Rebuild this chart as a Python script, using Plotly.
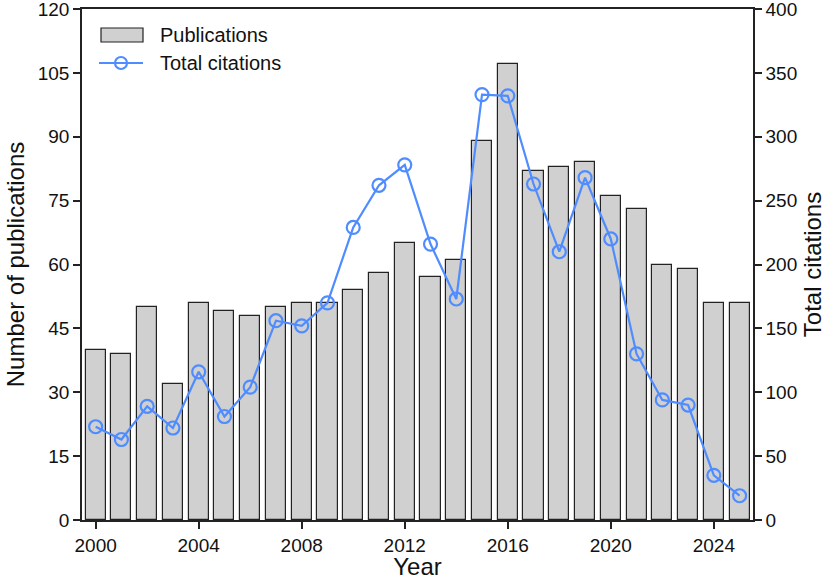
import plotly.graph_objects as go

years = list(range(2000, 2026))
publications = [40, 39, 50, 32, 51, 49, 48, 50, 51, 51, 54, 58, 65, 57, 61, 89, 107, 82, 83, 84, 76, 73, 60, 59, 51, 51]
citations = [73, 63, 89, 72, 116, 81, 104, 156, 152, 170, 229, 262, 278, 216, 173, 333, 332, 263, 210, 268, 220, 130, 94, 90, 35, 19]
xticks = [2000, 2004, 2008, 2012, 2016, 2020, 2024]
yticks_left = [0, 15, 30, 45, 60, 75, 90, 105, 120]
yticks_right = [0, 50, 100, 150, 200, 250, 300, 350, 400]
series_names = ["Publications", "Total citations"]

FONT = "Liberation Sans, Arial, sans-serif"
BLUE = "#4f8cff"
BAR_FILL = "#d0d0d0"
EDGE = "#222222"

W, H = 828, 580
ML, MR, MT, MB = 82, 75, 9, 60
PW, PH = W - ML - MR, H - MT - MB


def px(x):
    return (x - ML) / PW


def py(y):
    return (H - MB - y) / PH


fig = go.Figure()
fig.add_trace(go.Bar(
    x=years, y=publications, name=series_names[0], width=0.78,
    marker=dict(color=BAR_FILL, line=dict(color=EDGE, width=1.2)),
    yaxis="y", showlegend=False,
))
fig.add_trace(go.Scatter(
    x=years, y=citations, name=series_names[1], mode="lines+markers",
    line=dict(color=BLUE, width=2.2),
    marker=dict(symbol="circle-open", size=13, color=BLUE, line=dict(width=2.2, color=BLUE)),
    yaxis="y2", showlegend=False,
))

axis_common = dict(
    showgrid=False, zeroline=False, showline=True, linecolor=EDGE, linewidth=1.5,
    ticks="outside", ticklen=7, tickwidth=1.5, tickcolor=EDGE,
    tickfont=dict(family=FONT, size=19, color="#111111"), automargin=False,
    ticklabeloverflow="allow",
)
title_font = dict(family=FONT, size=24, color="#111111")

# custom legend (matplotlib-style patch + line/marker)
shapes = [
    dict(type="rect", xref="paper", yref="paper", x0=px(101), x1=px(143), y0=py(42), y1=py(28),
         fillcolor=BAR_FILL, line=dict(color=EDGE, width=1.2)),
    dict(type="line", xref="paper", yref="paper", x0=px(99), x1=px(143), y0=py(63), y1=py(63),
         line=dict(color=BLUE, width=2.2)),
    dict(type="circle", xref="paper", yref="paper", x0=px(115), x1=px(127), y0=py(69), y1=py(57),
         fillcolor="rgba(0,0,0,0)", line=dict(color=BLUE, width=2.2)),
]
annotations = [
    dict(text=series_names[0], xref="paper", yref="paper", x=px(158), y=py(35), xanchor="left",
         yanchor="middle", showarrow=False, font=dict(family=FONT, size=20, color="#111111")),
    dict(text=series_names[1], xref="paper", yref="paper", x=px(158), y=py(63), xanchor="left",
         yanchor="middle", showarrow=False, font=dict(family=FONT, size=20, color="#111111")),
]

fig.update_layout(
    width=W, height=H,
    margin=dict(l=ML, r=MR, t=MT, b=MB),
    plot_bgcolor="white", paper_bgcolor="white",
    font=dict(family=FONT, color="#111111"),
    bargap=0,
    xaxis=dict(**axis_common, range=[1999.47, 2025.52], tickvals=xticks,
               title=dict(text="Year", font=title_font, standoff=4), mirror=True),
    yaxis=dict(**axis_common, range=[0, 120], tickvals=yticks_left,
               title=dict(text="Number of publications", font=title_font, standoff=6)),
    yaxis2=dict(**axis_common, range=[0, 400], tickvals=yticks_right, overlaying="y", side="right",
                title=dict(text="Total citations", font=title_font, standoff=8)),
    shapes=shapes,
    annotations=annotations,
    showlegend=False,
)

fig.write_html("out.html")
